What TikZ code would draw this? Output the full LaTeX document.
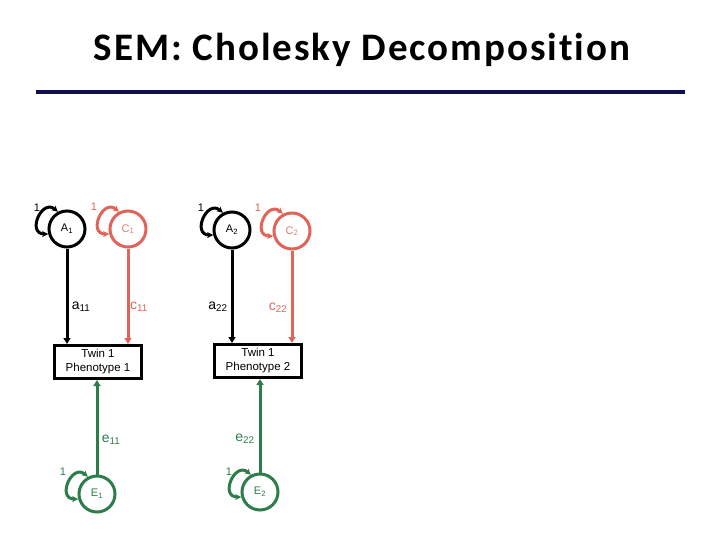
\documentclass[tikz,border=0pt]{standalone}
\usepackage{fontspec}
\setmainfont{Liberation Sans}
\newfontfamily\titlefont[Ligatures=NoCommon,LetterSpace=5]{Carlito}
\usetikzlibrary{arrows.meta}
\definecolor{salmon}{RGB}{225,100,90}
\definecolor{salmonlt}{RGB}{228,125,115}
\definecolor{sgreen}{RGB}{45,125,75}
\definecolor{navy}{RGB}{15,15,75}
\begin{document}
\begin{tikzpicture}[x=1pt,y=-1pt,
 lat/.style={circle,draw,line width=3pt,minimum size=36pt,inner sep=0pt,font=\fontsize{11}{13}\selectfont},
 obs/.style={rectangle,draw,line width=3pt,minimum width=87pt,minimum height=33pt,inner sep=1pt,align=center,font=\fontsize{11.5}{14}\selectfont},
 pathline/.style={line width=3pt,-{Triangle[length=6pt,width=7pt]}},
 varloop/.style={line width=3pt,{Stealth[length=6pt,width=6pt]}-{Stealth[length=6pt,width=6pt]}},
 lbl/.style={font=\fontsize{14}{16}\selectfont},
 one/.style={font=\fontsize{11}{13}\selectfont}]
\useasboundingbox (0,0) rectangle (720,540);
% title
\node[anchor=base, inner sep=0pt, font=\titlefont\bfseries\fontsize{39}{44}\selectfont] (title) at (362,61) {SEM: Cholesky Decomposition};
\coordinate (rl) at (36,92);
\coordinate (rr) at (685,92);
\draw[navy, line width=3.5pt] (rl) -- (rr);
% latent factors
\node[lat] (A1) at (67,229) {A\textsubscript{1}};
\node[lat, draw=salmon, text=salmonlt] (C1) at (128,229) {C\textsubscript{1}};
\node[lat] (A2) at (232,230) {A\textsubscript{2}};
\node[lat, draw=salmon, text=salmonlt] (C2) at (292,231) {C\textsubscript{2}};
\node[lat, draw=sgreen, text=sgreen] (E1) at (97,494) {E\textsubscript{1}};
\node[lat, draw=sgreen, text=sgreen] (E2) at (260,492) {E\textsubscript{2}};
% observed
\node[obs] (P1) at (98,362) {Twin 1\\Phenotype 1};
\node[obs] (P2) at (258,361) {Twin 1\\Phenotype 2};
% paths
\draw[pathline] (A1) -- (A1 |- P1.north);
\draw[pathline, salmon] (C1) -- (C1 |- P1.north);
\draw[pathline] (A2) -- (A2 |- P2.north);
\draw[pathline, salmon] (C2) -- (C2 |- P2.north);
\draw[pathline, sgreen] (E1) -- (E1 |- P1.south);
\draw[pathline, sgreen] (E2) -- (E2 |- P2.south);
% path labels
\node[lbl] (la11) at (81,307) {a\textsubscript{11}};
\node[lbl, text=salmon] (lc11) at (139,307) {c\textsubscript{11}};
\node[lbl] (la22) at (218,307) {a\textsubscript{22}};
\node[lbl, text=salmon] (lc22) at (278,308) {c\textsubscript{22}};
\node[lbl, text=sgreen] (le11) at (111,440) {e\textsubscript{11}};
\node[lbl, text=sgreen] (le22) at (245,439) {e\textsubscript{22}};
% variance loops
\foreach \n/\c in {A1/black, C1/salmon, A2/black, C2/salmon, E1/sgreen, E2/sgreen}{
  \draw[varloop, \c] (\n.118) .. controls +(-16,-14) and +(-22,0) .. (\n.195);
}
\node[one] (oA1) at (37,208) {1};
\node[one, text=salmon] (oC1) at (94,207) {1};
\node[one] (oA2) at (201,208) {1};
\node[one, text=salmon] (oC2) at (258,208) {1};
\node[one, text=sgreen] (oE1) at (63,472) {1};
\node[one, text=sgreen] (oE2) at (229,472) {1};
\end{tikzpicture}
\end{document}
